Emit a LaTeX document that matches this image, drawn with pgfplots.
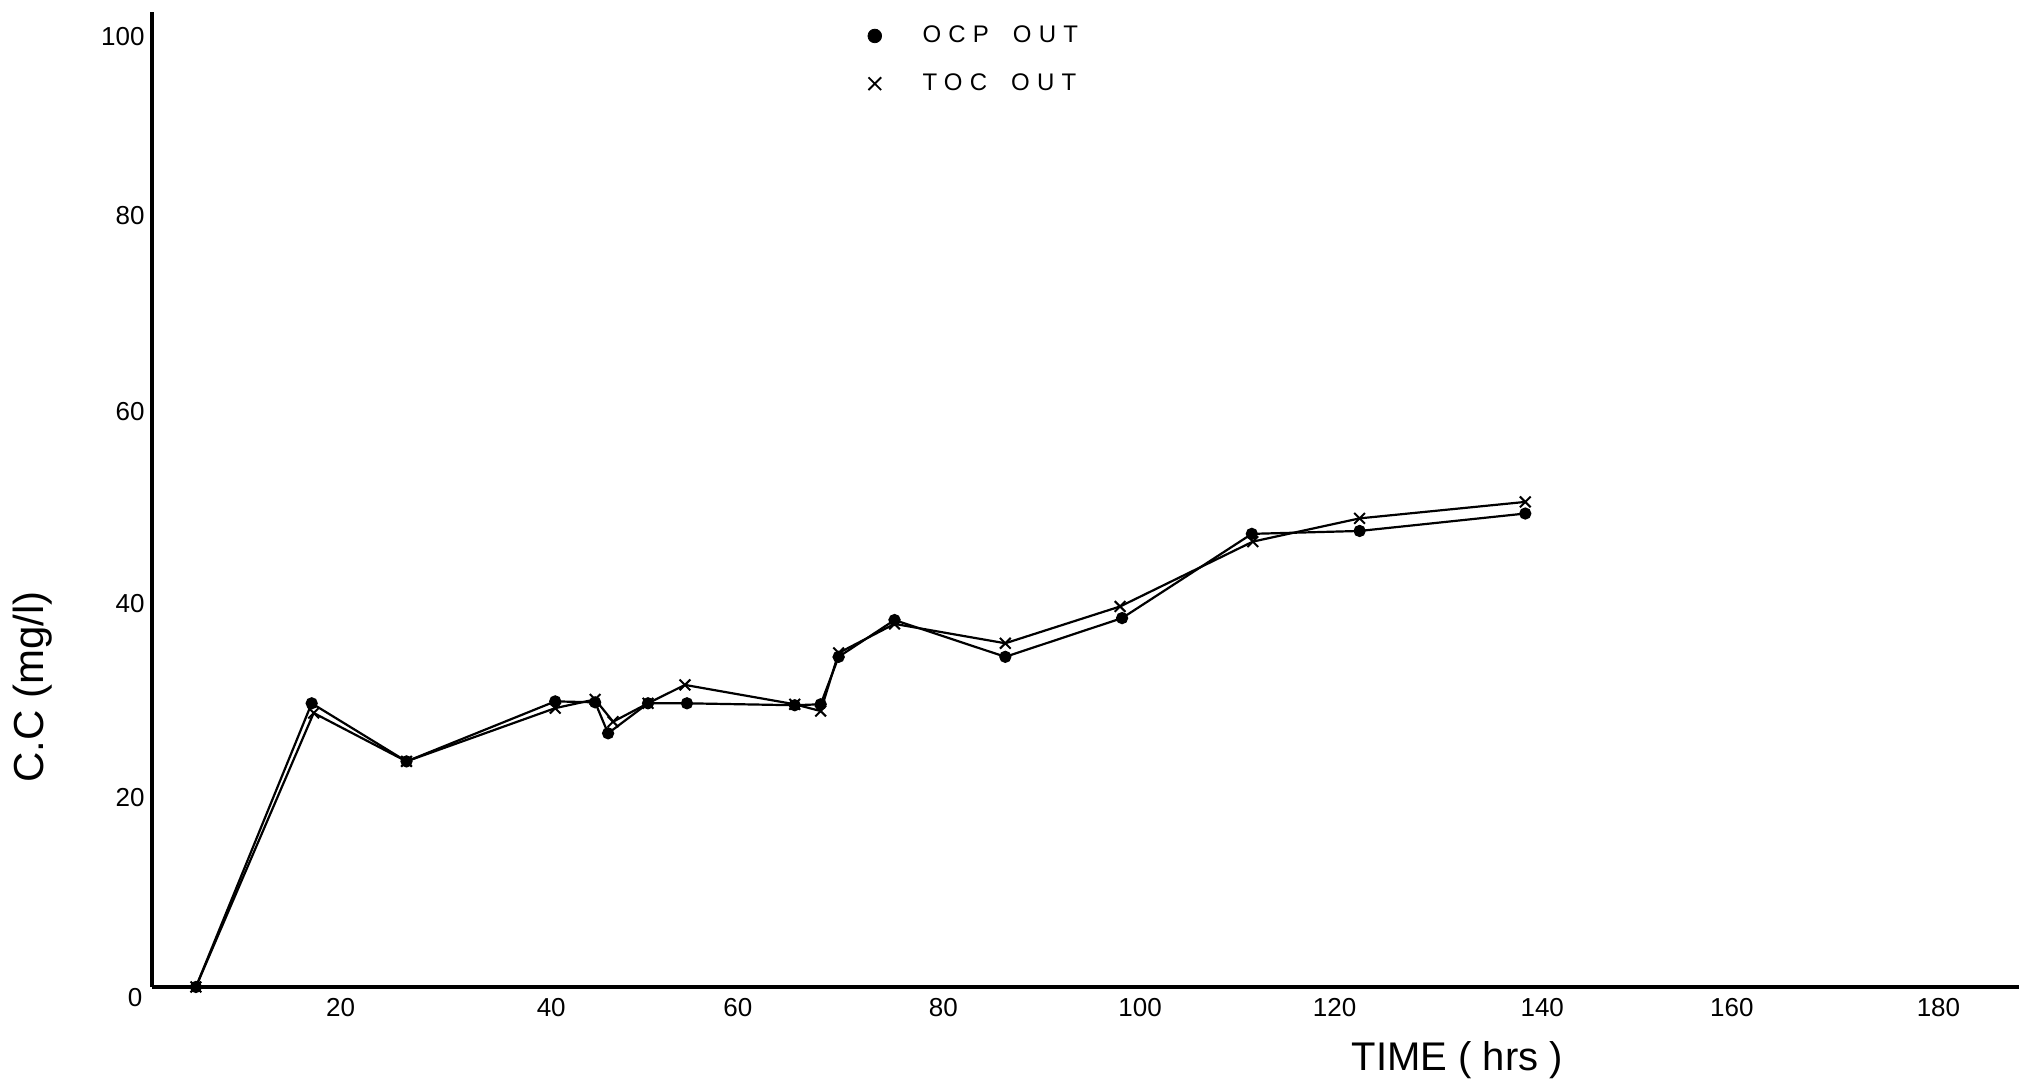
\documentclass[border=0pt]{standalone}
\usepackage{fontspec}
\setmainfont{Liberation Sans}
\usepackage{pgfplots}
\pgfplotsset{compat=1.18}
\pgfplotstableread{
x y
4.4 0
16.0 29.3
25.5 23.3
40.4 29.5
44.4 29.4
45.7 26.2
49.7 29.3
53.6 29.3
64.4 29.1
67.0 29.2
68.8 34.1
74.4 37.9
85.5 34.1
97.2 38.1
110.2 46.8
121.0 47.1
137.6 48.9
}\ocp
\pgfplotstableread{
x y
4.4 0
16.2 28.3
25.5 23.3
40.4 28.8
44.4 29.7
46.2 27.4
49.7 29.3
53.4 31.2
64.4 29.2
67.0 28.5
68.8 34.5
74.4 37.5
85.5 35.5
97.0 39.3
110.3 46.0
121.0 48.4
137.6 50.1
}\toc
\begin{document}
\begin{tikzpicture}[x=1pt,y=1pt]
\path[use as bounding box] (0,0) rectangle (1009.5,540.5);
\begin{axis}[
  at={(76pt,47pt)}, anchor=south west,
  scale only axis, width=933.5pt, height=487.5pt,
  xmin=0, xmax=187.07, ymin=0, ymax=100.7,
  axis x line=bottom, axis y line=left,
  axis line style={-, line width=1.6pt, black},
  major tick length=0pt,
  xtick={18.9,40.0,58.7,79.3,99.0,118.5,139.3,158.3,179.0},
  xticklabels={20,40,60,80,100,120,140,160,180},
  ytick={19.6,39.6,59.4,79.65,98.2},
  yticklabels={20,40,60,80,100},
  tick label style={font=\fontsize{13}{13}\selectfont},
  xticklabel style={anchor=center, yshift=-10.5pt},
  yticklabel style={anchor=east, inner sep=0pt, xshift=-3.5pt},
  /pgf/number format/assume math mode=true,
  clip=false,
  xlabel={TIME ( hrs )},
  ylabel={C.C (mg/l)},
  every axis x label/.style={at={(axis cs:130.8,-7.54)}, anchor=center, font=\fontsize{20}{20}\selectfont},
  every axis y label/.style={at={(axis cs:-12,31)}, rotate=90, anchor=center, font=\fontsize{21}{21}\selectfont},
  legend style={at={(axis cs:71.7,99.7)}, anchor=north west, draw=none, fill=none,
    font=\fontsize{12}{12}\selectfont\addfontfeature{LetterSpace=30}, row sep=10pt, inner sep=0pt,
    /tikz/every odd column/.append style={column sep=18.5pt}},
  legend cell align=left,
]
\addlegendimage{only marks, mark=*, mark size=3.4pt, black}
\addlegendentry{OCP\hspace{12pt}OUT}
\addlegendimage{only marks, mark=x, mark size=4.5pt, black, mark options={line width=0.9pt}}
\addlegendentry{TOC\hspace{12pt}OUT}
\addplot[black, line width=1.1pt, mark=*, mark size=2.5pt, forget plot] table[x=x,y=y] {\ocp};
\addplot[black, line width=1.1pt, mark=x, mark size=3.8pt, mark options={line width=1pt}, forget plot] table[x=x,y=y] {\toc};
\node[font=\fontsize{13}{13}\selectfont] at (axis cs:0,0) [xshift=-8.5pt, yshift=-5.5pt] {0};
\end{axis}
\end{tikzpicture}
\end{document}
